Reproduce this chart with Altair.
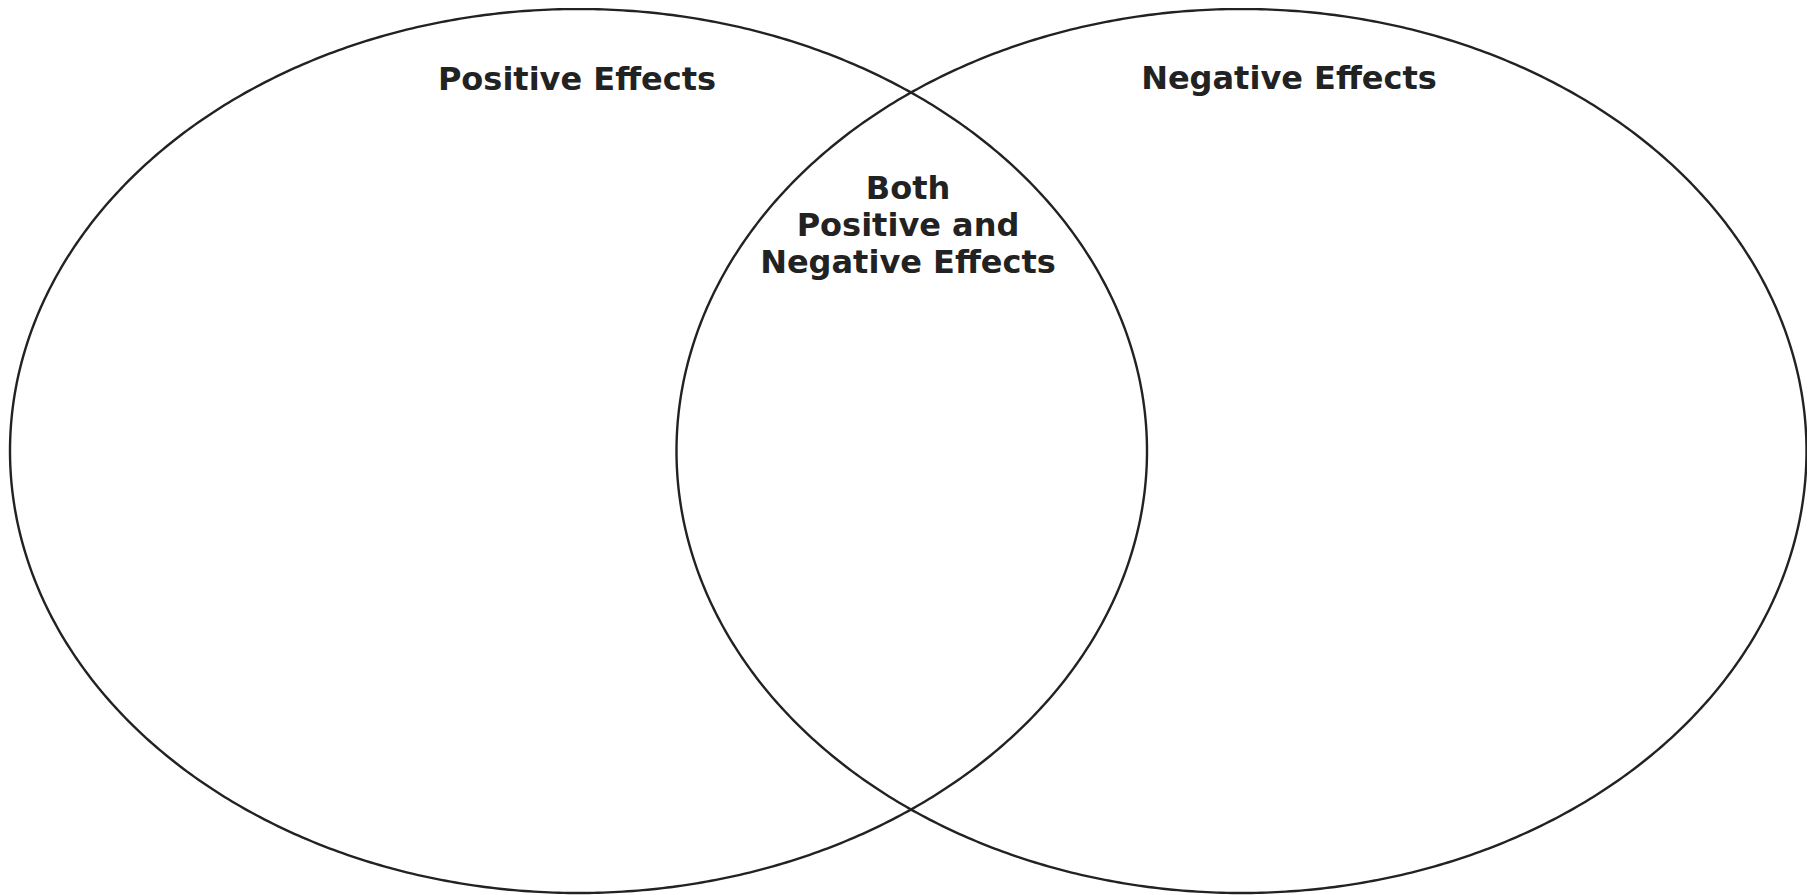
import numpy as np
import pandas as pd
import altair as alt

# Ellipse definitions (page-pixel units)
ellipse_names = ["Positive", "Negative"]
ellipse_cx = [578.5, 1241.5]
ellipse_cy = [451.0, 451.0]
ellipse_rx = [568.5, 565.0]
ellipse_ry = [442.0, 442.0]

# Labels
label_texts = ["Positive Effects", "Negative Effects", "Both", "Positive and", "Negative Effects"]
label_x = [577, 1289, 908, 908, 908]
label_y = [90, 89, 199, 236, 273]

rows = []
t = np.linspace(0, 2 * np.pi, 721)
for name, cx, cy, rx, ry in zip(ellipse_names, ellipse_cx, ellipse_cy, ellipse_rx, ellipse_ry):
    for i, a in enumerate(t):
        rows.append({"name": name, "i": i, "x": cx + rx * np.cos(a), "y": cy + ry * np.sin(a)})
ell = pd.DataFrame(rows)
lab = pd.DataFrame({"text": label_texts, "x": label_x, "y": label_y})

xs = alt.Scale(domain=[8, 1807], nice=False, zero=False)
ys = alt.Scale(domain=[895, 8], nice=False, zero=False)

lines = alt.Chart(ell).mark_line(color="#222222", strokeWidth=2.4, clip=False).encode(
    x=alt.X("x:Q", scale=xs, axis=None),
    y=alt.Y("y:Q", scale=ys, axis=None),
    detail="name:N",
    order="i:Q",
)

texts = alt.Chart(lab).mark_text(
    font="DejaVu Sans", fontWeight="bold", fontSize=32, color="#222222",
    baseline="alphabetic", align="center"
).encode(
    x=alt.X("x:Q", scale=xs, axis=None),
    y=alt.Y("y:Q", scale=ys, axis=None),
    text="text:N",
)

chart = (lines + texts).properties(
    width=1799, height=887,
    autosize=alt.AutoSizeParams(type="none"),
    padding=0,
    background="white",
).configure_view(stroke=None)

chart.save("out.html", embed_options={"renderer": "svg", "actions": False})
